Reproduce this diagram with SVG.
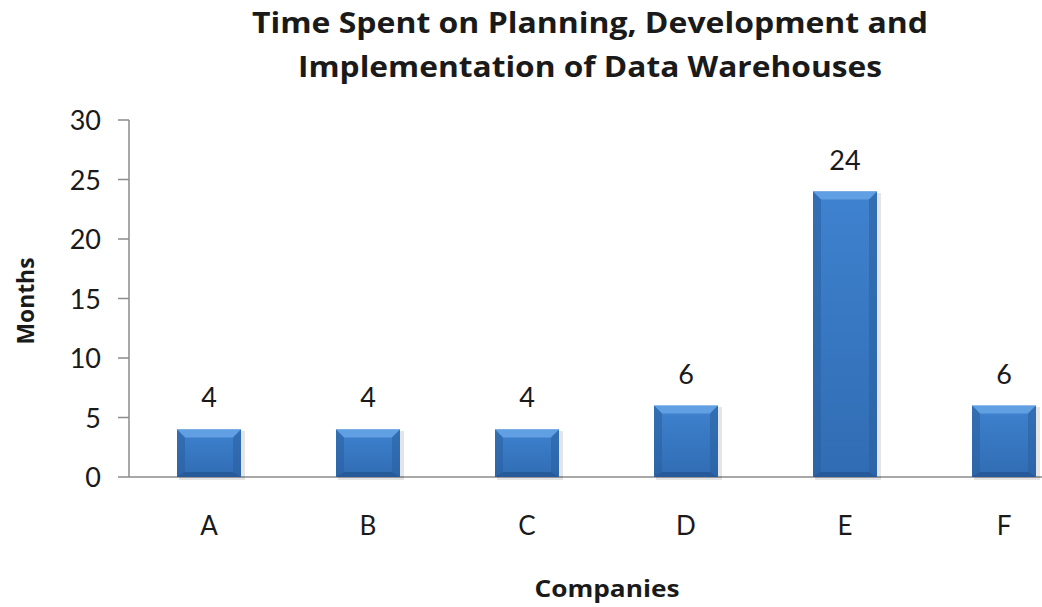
<svg xmlns="http://www.w3.org/2000/svg" width="1042" height="607" viewBox="0 0 1042 607">
<style>
text{font-family:Lato,"Open Sans","Liberation Sans",sans-serif;fill:#1a1a1a}
.title{font-family:"Open Sans","Liberation Sans",sans-serif;font-size:28px;font-weight:bold;text-anchor:middle}
.tick{font-size:27px;text-anchor:end}
.cat{font-size:26px;text-anchor:middle}
.val{font-size:27px;text-anchor:middle}
.axt{font-family:"Open Sans","Liberation Sans",sans-serif;font-size:24px;font-weight:bold;text-anchor:middle}
.axis{stroke:#8c8c8c;stroke-width:1.5;fill:none}
.face{fill:url(#face)}
.btop{fill:#6aa6e8;opacity:0.8}
.bside{fill:#2a5f9e;opacity:0.55}
.bbot{fill:#1f4f88;opacity:0.6}
.shadow{fill:#000;opacity:0.1}
</style>
<defs>
<linearGradient id="face" x1="0" y1="0" x2="0" y2="1">
<stop offset="0" stop-color="#3f82cf"/>
<stop offset="1" stop-color="#306cb3"/>
</linearGradient>
</defs>
<rect width="1042" height="607" fill="#fff"/>
<g id="title">
<text class="title" x="590" y="33" textLength="676" lengthAdjust="spacingAndGlyphs">Time Spent on Planning, Development and</text>
<text class="title" x="590" y="77" textLength="584" lengthAdjust="spacingAndGlyphs">Implementation of Data Warehouses</text>
</g>
<g id="axes">
<path class="axis" d="M129 120V477M118 120H129M118 179.5H129M118 239H129M118 298.5H129M118 358H129M118 417.5H129M118 477H1042"/>
<text class="tick" x="101" y="130">30</text>
<text class="tick" x="101" y="189.5">25</text>
<text class="tick" x="101" y="249">20</text>
<text class="tick" x="101" y="308.5">15</text>
<text class="tick" x="101" y="368">10</text>
<text class="tick" x="101" y="427.5">5</text>
<text class="tick" x="101" y="487">0</text>
<text class="cat" x="209" y="535">A</text>
<text class="cat" x="368" y="535">B</text>
<text class="cat" x="527" y="535">C</text>
<text class="cat" x="686" y="535">D</text>
<text class="cat" x="845" y="535">E</text>
<text class="cat" x="1004" y="535">F</text>
<text class="axt" x="607" y="597" textLength="145" lengthAdjust="spacingAndGlyphs">Companies</text>
<text class="axt" transform="translate(34 301) rotate(-90)" textLength="87" lengthAdjust="spacingAndGlyphs">Months</text>
</g>
<g id="bar-A">
<rect class="shadow" x="179" y="431" width="66" height="49"/>
<rect class="face" x="177" y="429.4" width="64" height="47.6"/>
<polygon class="btop" points="177,429.4 241,429.4 233,437.4 185,437.4"/>
<polygon class="bside" points="177,429.4 185,437.4 185,472 177,477"/>
<polygon class="bside" points="241,429.4 233,437.4 233,472 241,477"/>
<polygon class="bbot" points="177,477 185,472 233,472 241,477"/>
<text class="val" x="209" y="407">4</text>
</g>
<g id="bar-B">
<rect class="shadow" x="338" y="431" width="66" height="49"/>
<rect class="face" x="336" y="429.4" width="64" height="47.6"/>
<polygon class="btop" points="336,429.4 400,429.4 392,437.4 344,437.4"/>
<polygon class="bside" points="336,429.4 344,437.4 344,472 336,477"/>
<polygon class="bside" points="400,429.4 392,437.4 392,472 400,477"/>
<polygon class="bbot" points="336,477 344,472 392,472 400,477"/>
<text class="val" x="368" y="407">4</text>
</g>
<g id="bar-C">
<rect class="shadow" x="497" y="431" width="66" height="49"/>
<rect class="face" x="495" y="429.4" width="64" height="47.6"/>
<polygon class="btop" points="495,429.4 559,429.4 551,437.4 503,437.4"/>
<polygon class="bside" points="495,429.4 503,437.4 503,472 495,477"/>
<polygon class="bside" points="559,429.4 551,437.4 551,472 559,477"/>
<polygon class="bbot" points="495,477 503,472 551,472 559,477"/>
<text class="val" x="527" y="407">4</text>
</g>
<g id="bar-D">
<rect class="shadow" x="656" y="407" width="66" height="73"/>
<rect class="face" x="654" y="405.6" width="64" height="71.4"/>
<polygon class="btop" points="654,405.6 718,405.6 710,413.6 662,413.6"/>
<polygon class="bside" points="654,405.6 662,413.6 662,472 654,477"/>
<polygon class="bside" points="718,405.6 710,413.6 710,472 718,477"/>
<polygon class="bbot" points="654,477 662,472 710,472 718,477"/>
<text class="val" x="686" y="384">6</text>
</g>
<g id="bar-E">
<rect class="shadow" x="815" y="193" width="66" height="287"/>
<rect class="face" x="813" y="191.4" width="64" height="285.6"/>
<polygon class="btop" points="813,191.4 877,191.4 869,199.4 821,199.4"/>
<polygon class="bside" points="813,191.4 821,199.4 821,472 813,477"/>
<polygon class="bside" points="877,191.4 869,199.4 869,472 877,477"/>
<polygon class="bbot" points="813,477 821,472 869,472 877,477"/>
<text class="val" x="845" y="170">24</text>
</g>
<g id="bar-F">
<rect class="shadow" x="974" y="407" width="66" height="73"/>
<rect class="face" x="972" y="405.6" width="64" height="71.4"/>
<polygon class="btop" points="972,405.6 1036,405.6 1028,413.6 980,413.6"/>
<polygon class="bside" points="972,405.6 980,413.6 980,472 972,477"/>
<polygon class="bside" points="1036,405.6 1028,413.6 1028,472 1036,477"/>
<polygon class="bbot" points="972,477 980,472 1028,472 1036,477"/>
<text class="val" x="1004" y="384">6</text>
</g>
</svg>
